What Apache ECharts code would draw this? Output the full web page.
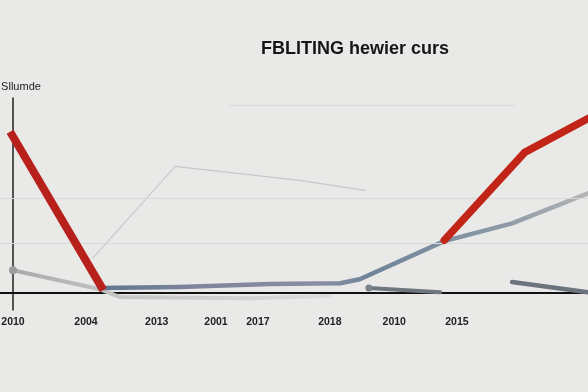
<!DOCTYPE html>
<html>
<head>
<meta charset="utf-8">
<script src="https://cdn.jsdelivr.net/npm/echarts@6/dist/echarts.min.js"></script>
<style>
  html, body { margin: 0; padding: 0; background: #e9e9e8; }
  #chart { width: 588px; height: 392px; }
</style>
</head>
<body>
<div id="chart"></div>
<script>
// ---- data ----
var titleText = 'FBLITING hewier curs';
var yAxisName = 'Sllumde';
var tickPositions = [0, 12.7, 25.0, 35.3, 42.6, 55.1, 66.3, 77.2];
var tickLabels = ['2010', '2004', '2013', '2001', '2017', '2018', '2010', '2015'];
var gridLevels = [26.6, 50.5];
var topLevel = 100;

var redLeft = [[-0.5, 86], [15.7, 1.6]];
var redRight = [[75.0, 28.2], [89.0, 75.0], [100, 93.1]];
var thinGray = [[13.9, 18.6], [28.2, 67.6], [49.9, 60.1], [61.2, 54.8]];
var paleGray = [[0, 12.2], [15.1, 2.1], [18.6, -2.1], [41.2, -2.7], [55.1, -1.6]];
var blueGray = [[15.1, 2.7], [29.0, 3.2], [44.7, 4.8], [56.9, 5.3], [60.3, 7.4], [75.0, 27.7], [86.8, 37.2], [100, 53.2]];
var darkGrayA = [[61.9, 2.7], [74.3, 0.5]];
var darkGrayB = [[86.8, 5.9], [100, 0.5]];

var chart = echarts.init(document.getElementById('chart'), null, { renderer: 'canvas' });

var gridMarks = gridLevels.map(function (v) { return { yAxis: v }; });
gridMarks.push([{ coord: [37.7, topLevel] }, { coord: [87.3, topLevel] }]);

function line(data, color, width, extra) {
  var s = {
    type: 'line',
    data: data,
    showSymbol: false,
    symbol: 'none',
    smooth: false,
    silent: true,
    z: 3,
    lineStyle: { color: color, width: width, cap: 'round', join: 'round' }
  };
  for (var k in extra) s[k] = extra[k];
  return s;
}

var option = {
  backgroundColor: '#e9e9e8',
  animation: false,
  title: {
    text: titleText,
    left: 256,
    top: 35,
    textStyle: {
      fontFamily: '"Liberation Sans", Arial, sans-serif',
      fontSize: 18,
      fontWeight: 'bold',
      color: '#161616'
    }
  },
  grid: { left: 0, right: 0, top: 98, bottom: 82, containLabel: false, outerBoundsMode: 'none' },
  xAxis: {
    type: 'value',
    min: -2.26,
    max: 100,
    splitLine: { show: false },
    axisTick: { show: false },
    axisLine: { onZero: true, lineStyle: { color: '#111', width: 2 } },
    axisLabel: {
      customValues: tickPositions,
      margin: 7,
      fontSize: 10.5,
      fontWeight: 'bold',
      color: '#222',
      fontFamily: '"Liberation Sans", Arial, sans-serif',
      formatter: function (v) {
        for (var i = 0; i < tickPositions.length; i++) {
          if (Math.abs(tickPositions[i] - v) < 0.01) return tickLabels[i];
        }
        return '';
      }
    }
  },
  yAxis: {
    type: 'value',
    min: -9,
    max: 104,
    name: yAxisName,
    nameLocation: 'end',
    nameGap: 6,
    nameTextStyle: {
      fontSize: 11,
      color: '#222',
      fontFamily: '"Liberation Sans", Arial, sans-serif',
      padding: [0, 0, 0, 16]
    },
    splitLine: { show: false },
    axisTick: { show: false },
    axisLabel: { show: false },
    axisLine: { show: true, onZero: true, lineStyle: { color: '#222', width: 1.5 } }
  },
  series: [
    line(thinGray, '#c8c8c8', 1.2, {
      z: 1,
      markLine: {
        silent: true,
        symbol: 'none',
        label: { show: false },
        lineStyle: { color: '#d8d8d8', width: 1, type: 'solid' },
        data: gridMarks
      }
    }),
    line(paleGray, {
      type: 'linear', x: 0, y: 0, x2: 1, y2: 0,
      colorStops: [{ offset: 0, color: '#a9a9a9' }, { offset: 0.35, color: '#c6c6c6' }, { offset: 1, color: '#dcdcdc' }]
    }, 4, { z: 2 }),
    line([paleGray[0]], '#9a9a9a', 1, { showSymbol: true, symbol: 'circle', symbolSize: 8, itemStyle: { color: '#9c9c9c' }, z: 4 }),
    line(blueGray, {
      type: 'linear', x: 0, y: 0, x2: 1, y2: 0,
      colorStops: [
        { offset: 0, color: '#5d7590' },
        { offset: 0.2, color: '#7f849c' },
        { offset: 0.45, color: '#8a8ea3' },
        { offset: 0.55, color: '#6f8499' },
        { offset: 0.82, color: '#8c99a6' },
        { offset: 1, color: '#b6b6b6' }
      ]
    }, 4.5, { z: 3 }),
    line(darkGrayA, '#6e7780', 4, { z: 3 }),
    line([darkGrayA[0]], '#6e7780', 1, { showSymbol: true, symbol: 'circle', symbolSize: 7, itemStyle: { color: '#7a828a' }, z: 4 }),
    line(darkGrayB, '#6b747d', 4.5, { z: 3 }),
    line(redLeft, '#b8201c', 8, { z: 5, lineStyle: { color: '#b8201c', width: 8, cap: 'butt' } }),
    line(redRight, '#c22418', 7.5, { z: 5 })
  ]
};
chart.setOption(option);
</script>
</body>
</html>
